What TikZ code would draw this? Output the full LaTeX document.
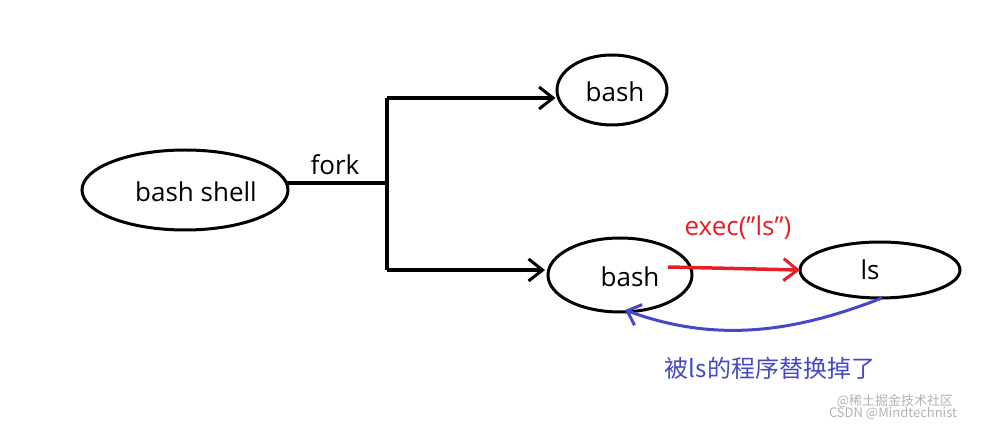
\documentclass[tikz,border=0pt]{standalone}
\usepackage{fontspec}
\setmainfont{Open Sans}
\newfontfamily\cjk{Noto Sans CJK SC}
\usetikzlibrary{arrows.meta,shapes.geometric}
\definecolor{myred}{RGB}{230,30,40}
\definecolor{myblue}{RGB}{70,72,200}
\begin{document}
\begin{tikzpicture}[x=1pt,y=-1pt,
  ell/.style={draw,line width=3pt,ellipse},
  lbl/.style={font=\fontsize{26}{28}\selectfont},
  conn/.style={line width=3.5pt,-{Straight Barb[length=14pt,width=22pt,line width=3pt]}}]
\useasboundingbox (0,0) rectangle (994,430);
\node[ell,minimum width=206pt,minimum height=80pt] (shell) at (185,190) {};
\node[lbl] at (196,192) {bash shell};
\node[ell,minimum width=110pt,minimum height=70pt] (b1) at (612,90) {};
\node[lbl] at (615,92) {bash};
\node[ell,minimum width=144pt,minimum height=74pt] (b2) at (620,275) {};
\node[lbl] at (630,277) {bash};
\node[ell,minimum width=160pt,minimum height=56pt] (ls) at (880,270) {};
\node[lbl] at (870,270) {ls};
\coordinate (j) at (387,183);
\coordinate (t) at (387,98);
\coordinate (u) at (387,270);
\coordinate (se) at (286,183);
\draw[line width=3.5pt] (se) -- (j);
\draw[line width=3.5pt] (t) -- (u);
\draw[conn] (t) -- (b1.west|-t);
\draw[conn] (u) -- (545,270) coordinate (ue);
\node[lbl] (fork) at (335,165) {fork};
\draw[conn,myred] (668,267) coordinate (rs) -- (800,270) coordinate (re);
\node[lbl,text=myred] (ex) at (738,228) {exec(\char34 ls\char34)};
\coordinate (bs) at (882,298);
\coordinate (be) at (625,310);
\draw[line width=3pt,color=myblue,-{Straight Barb[length=12pt,width=22pt,line width=3pt]}]
  (bs) .. controls (800,330) and (720,345) .. (be);
\node[font=\cjk\fontsize{24}{26}\selectfont,text=myblue] (cn) at (770,368) {被ls的程序替换掉了};
\node[font=\cjk\fontsize{13}{15}\selectfont,text=gray!60] (w1) at (895,401) {@稀土掘金技术社区};
\node[font=\cjk\fontsize{13}{15}\selectfont,text=gray!60] (w2) at (893,413) {CSDN @Mindtechnist};
\end{tikzpicture}
\end{document}
